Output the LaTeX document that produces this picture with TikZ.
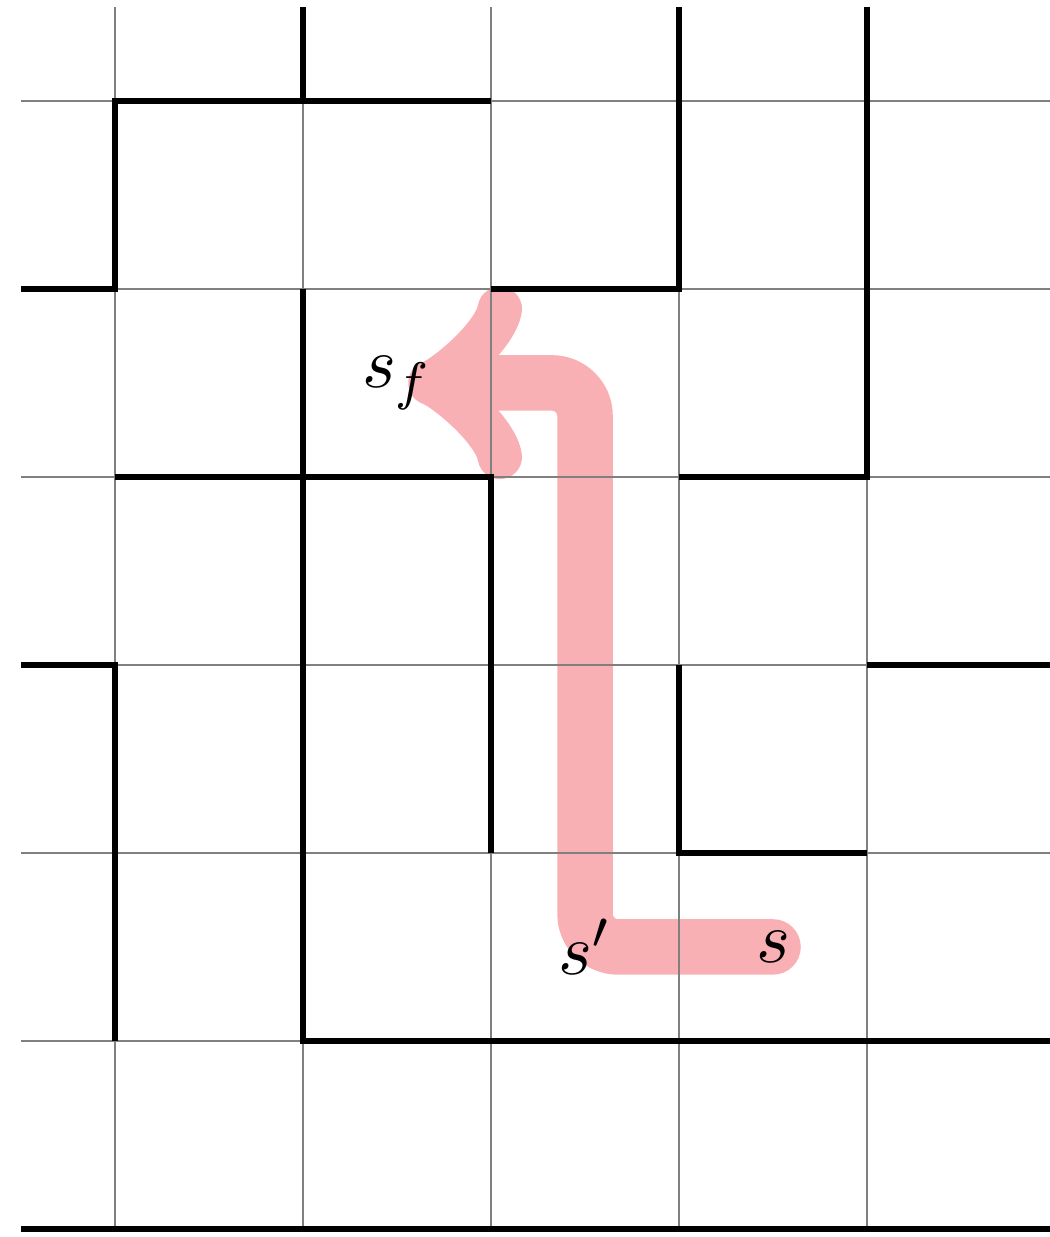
\documentclass[tikz,border=0pt]{standalone}
\usetikzlibrary{backgrounds}
\definecolor{routepink}{RGB}{249,176,181}
\begin{document}
\begin{tikzpicture}[
  >=to,font=\fontsize{11}{13}\selectfont,
  gridline/.style={draw=gray,line width=0.25pt},
  wall/.style={draw=black,line width=1pt},
  route/.style={draw=routepink,line width=8.4pt,rounded corners=5pt,line cap=round,->,shorten >=-4.8pt},
  lbl/.style={inner sep=1pt}]
  \useasboundingbox (-0.612,-0.043) rectangle (4.973,6.537);
  \draw[gridline] (-0.5,0) grid (4.973,6.5);
  % walls
  \draw[wall] (1,6.5) -- (1,6);
  \draw[wall] (-0.5,5) -- (0,5) -- (0,6) -- (2,6);
  \draw[wall] (3,6.5) -- (3,5) -- (2,5);
  \draw[wall] (4,6.5) -- (4,4) -- (3,4);
  \draw[wall] (0,4) -- (2,4) -- (2,2);
  \draw[wall] (1,5) -- (1,1) -- (4.973,1);
  \draw[wall] (-0.5,3) -- (0,3) -- (0,1);
  \draw[wall] (3,3) -- (3,2) -- (4,2);
  \draw[wall] (4,3) -- (4.973,3);
  \draw[wall] (-0.5,0) -- (4.973,0);
  % states
  \node[lbl] (s) at (3.5,1.5) {$s$};
  \node[lbl] (sp) at (2.5,1.5) {$s'$};
  \node[lbl] (sf) at (1.5,4.5) {$s_f$};
  \begin{scope}[on background layer]
    \draw[route] (s.center) -- (sp.center) |- (sf);
  \end{scope}
\end{tikzpicture}
\end{document}
